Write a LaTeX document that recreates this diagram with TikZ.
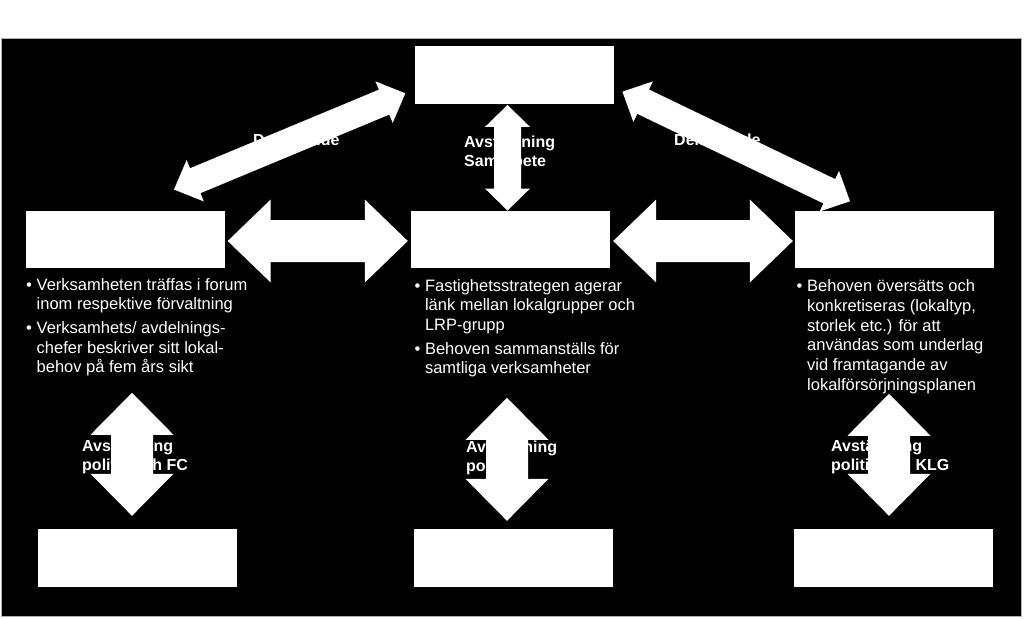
\documentclass[tikz,border=0pt]{standalone}
\usepackage{fontspec}
\setmainfont{Liberation Sans}
\usetikzlibrary{calc}
\tikzset{
  box/.style={fill=white, draw=none, minimum width=199pt, minimum height=57.5pt, inner sep=0pt},
  lbl/.style={text=white, font=\fontsize{16}{19.7}\selectfont\bfseries, inner sep=0pt, anchor=base west},
  btxt/.style={text=white, font=\fontsize{16.5}{19.7}\selectfont, inner sep=0pt, anchor=base west},
}
% double arrow polygon: #1 tip, #2 tip, #3 shaft half width, #4 head half width, #5 head length
\newcommand{\dblarrow}[5]{%
  \fill[white] (#1)
    -- ($(#1)!#5pt!(#2)!#4pt!90:(#2)$)
    -- ($(#1)!#5pt!(#2)!#3pt!90:(#2)$)
    -- ($(#2)!#5pt!(#1)!#3pt!-90:(#1)$)
    -- ($(#2)!#5pt!(#1)!#4pt!-90:(#1)$)
    -- (#2)
    -- ($(#2)!#5pt!(#1)!#4pt!90:(#1)$)
    -- ($(#2)!#5pt!(#1)!#3pt!90:(#1)$)
    -- ($(#1)!#5pt!(#2)!#3pt!-90:(#2)$)
    -- ($(#1)!#5pt!(#2)!#4pt!-90:(#2)$)
    -- cycle;}
\newcommand{\bul}{\makebox[10.5pt][l]{•}}
\newcommand{\ind}{\hspace*{10.5pt}}
\begin{document}
\begin{tikzpicture}[x=1pt,y=-1pt]
\useasboundingbox (0,0) rectangle (1024,618);
\fill[white] (0,0) rectangle (1024,618);
\filldraw[fill=black, draw=gray!60, line width=0.8pt] (1.5,38) rectangle (1021,616);

% boxes
\node[box] (top)  at (514,75) {};
\node[box] (lmid) at (125,239.5) {};
\node[box] (cmid) at (510.5,239.5) {};
\node[box] (rmid) at (894.5,239.5) {};
\node[box] (lbot) at (137,558) {};
\node[box] (cbot) at (513.5,558) {};
\node[box] (rbot) at (893.5,558) {};

% labels (partly hidden behind the arrows)
\node[lbl] (dlL) at (253,145) {Deltagande};
\node[lbl] (dlR) at (674,145) {Deltagande};
\node[lbl] (avT) at (464,147) {\begin{tabular}[t]{@{}l@{}}Avstämning\\Samarbete\end{tabular}};
\node[lbl] (avL) at (82,451) {\begin{tabular}[t]{@{}l@{}}Avstämning\\politik och FC\end{tabular}};
\node[lbl] (avC) at (466,452) {\begin{tabular}[t]{@{}l@{}}Avstämning\\politik\end{tabular}};
\node[lbl] (avR) at (831,451) {\begin{tabular}[t]{@{}l@{}}Avstämning\\politik och KLG\end{tabular}};

% bullet texts
\node[btxt] (txL) at (26,290) {\begin{tabular}[t]{@{}l@{}}
\bul Verksamheten träffas i forum\\
\ind inom respektive förvaltning\\[4pt]
\bul Verksamhets/ avdelnings-\\
\ind chefer beskriver sitt lokal-\\
\ind behov på fem års sikt
\end{tabular}};
\node[btxt] (txC) at (414.3,291) {\begin{tabular}[t]{@{}l@{}}
\bul Fastighetsstrategen agerar\\
\ind länk mellan lokalgrupper och\\
\ind LRP-grupp\\[4pt]
\bul Behoven sammanställs för\\
\ind samtliga verksamheter
\end{tabular}};
\node[btxt] (txR) at (796.5,291.7) {\begin{tabular}[t]{@{}l@{}}
\bul Behoven översätts och\\
\ind konkretiseras (lokaltyp,\\
\ind storlek etc.) för att\\
\ind användas som underlag\\
\ind vid framtagande av\\
\ind lokalförsörjningsplanen
\end{tabular}};

% arrow end points
\coordinate (tvA) at ($(top.south)+(-6.5,1)$);
\coordinate (tvB) at ($(cmid.north)+(-3,0)$);
\coordinate (hl1) at ($(lmid.east)+(3,1.5)$);
\coordinate (hl2) at ($(cmid.west)+(-3,1.5)$);
\coordinate (hr1) at ($(cmid.east)+(3,1.5)$);
\coordinate (hr2) at ($(rmid.west)+(-2,1.5)$);
\coordinate (dl1) at ($(lmid.north)+(49,-21)$);
\coordinate (dl2) at ($(top.west)+(-9,18.3)$);
\coordinate (dr1) at ($(top.east)+(8.7,16.7)$);
\coordinate (dr2) at ($(rmid.north)+(-44.5,-9.3)$);
\coordinate (bl1) at ($(lbot.north)+(-5,-136.25)$);
\coordinate (bl2) at ($(lbot.north)+(-5,-13.25)$);
\coordinate (cb1) at ($(cbot.north)+(-6.5,-131.25)$);
\coordinate (cb2) at ($(cbot.north)+(-6.5,-8.25)$);
\coordinate (rb1) at ($(rbot.north)+(-4.5,-135.25)$);
\coordinate (rb2) at ($(rbot.north)+(-4.5,-13.25)$);

% arrows
\dblarrow{tvA}{tvB}{13.5}{22.5}{22}
\dblarrow{dl1}{dl2}{13.5}{22.5}{23}
\dblarrow{dr1}{dr2}{13.5}{22.5}{23}
\dblarrow{hl1}{hl2}{21}{41.5}{43}
\dblarrow{hr1}{hr2}{21}{41.5}{43}
\dblarrow{bl1}{bl2}{21}{41.5}{42}
\dblarrow{cb1}{cb2}{21}{41.5}{42}
\dblarrow{rb1}{rb2}{21}{41.5}{42}
\end{tikzpicture}
\end{document}
